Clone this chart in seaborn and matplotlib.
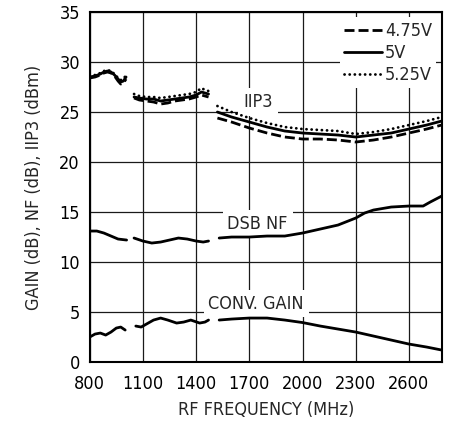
import matplotlib
matplotlib.use("Agg")
import matplotlib.pyplot as plt
import seaborn as sns
import pandas as pd
from matplotlib.lines import Line2D

# Frequency points (MHz) for the three measured bands
freq_a = [800, 830, 860, 880, 900, 920, 940, 960, 975, 990, 1005]
freq_b = [1050, 1080, 1120, 1160, 1200, 1240, 1280, 1320, 1360, 1400, 1430, 1450, 1470]
freq_c = [1520, 1600, 1700, 1800, 1900, 2000, 2100, 2200, 2300, 2400, 2500, 2600, 2700, 2785]

# IIP3 (dBm) at three supply voltages
iip3_475_a = [28.4, 28.5, 28.7, 28.9, 29.0, 28.9, 28.6, 28.1, 27.8, 27.9, 28.3]
iip3_500_a = [28.5, 28.6, 28.8, 29.0, 29.1, 29.0, 28.7, 28.3, 28.0, 28.1, 28.5]
iip3_525_a = [28.6, 28.7, 28.9, 29.1, 29.2, 29.1, 28.8, 28.4, 28.2, 28.3, 28.7]

iip3_475_b = [26.4, 26.2, 26.1, 26.0, 25.8, 25.9, 26.1, 26.2, 26.3, 26.5, 26.7, 26.6, 26.5]
iip3_500_b = [26.5, 26.4, 26.3, 26.3, 26.1, 26.2, 26.3, 26.4, 26.5, 26.7, 27.0, 26.9, 26.8]
iip3_525_b = [26.8, 26.6, 26.5, 26.5, 26.4, 26.5, 26.6, 26.7, 26.8, 27.0, 27.4, 27.2, 27.1]

iip3_475_c = [24.4, 24.0, 23.4, 22.9, 22.5, 22.3, 22.3, 22.2, 22.0, 22.2, 22.5, 22.9, 23.3, 23.7]
iip3_500_c = [25.0, 24.5, 24.0, 23.5, 23.1, 22.9, 22.8, 22.7, 22.5, 22.7, 22.9, 23.3, 23.7, 24.1]
iip3_525_c = [25.6, 25.0, 24.4, 23.9, 23.5, 23.3, 23.2, 23.1, 22.8, 23.0, 23.3, 23.7, 24.1, 24.5]

# DSB noise figure (dB)
nf_freq_a = [800, 840, 880, 920, 960, 1008]
nf_a = [13.1, 13.1, 12.9, 12.6, 12.3, 12.2]
nf_freq_b = [1050, 1100, 1150, 1200, 1250, 1300, 1350, 1400, 1440, 1470]
nf_b = [12.4, 12.1, 11.9, 12.0, 12.2, 12.4, 12.3, 12.1, 12.0, 12.1]
nf_freq_c = [1530, 1600, 1700, 1800, 1900, 2000, 2100, 2200, 2300, 2350,
             2400, 2500, 2600, 2680, 2720, 2785]
nf_c = [12.4, 12.5, 12.5, 12.6, 12.6, 12.9, 13.3, 13.7, 14.4, 14.9,
        15.2, 15.5, 15.6, 15.6, 16.0, 16.6]

# Conversion gain (dB)
gain_freq_a = [800, 830, 860, 890, 920, 950, 975, 1000]
gain_a = [2.5, 2.8, 2.9, 2.7, 3.0, 3.4, 3.5, 3.2]
gain_freq_b = [1060, 1090, 1120, 1160, 1200, 1240, 1290, 1330, 1370, 1420, 1450, 1470]
gain_b = [3.6, 3.5, 3.8, 4.2, 4.4, 4.2, 3.9, 4.0, 4.2, 3.9, 4.0, 4.2]
gain_freq_c = [1530, 1600, 1700, 1800, 1900, 2000, 2100, 2200, 2300, 2400,
               2500, 2600, 2700, 2785]
gain_c = [4.2, 4.3, 4.4, 4.4, 4.2, 3.95, 3.6, 3.3, 3.0, 2.6, 2.2, 1.8, 1.5, 1.2]

x_ticks = [800, 1100, 1400, 1700, 2000, 2300, 2600]
y_ticks = [0, 5, 10, 15, 20, 25, 30, 35]
supply_labels = ["4.75V", "5V", "5.25V"]

sns.set_style("white")
plt.rcParams["font.family"] = ["DejaVu Sans"]
plt.rcParams["font.stretch"] = "condensed"
plt.rcParams["font.size"] = 13

fig = plt.figure(figsize=(4.66, 4.21), dpi=100)
ax = fig.add_axes([0.1925, 0.140, 0.7555, 0.8315])

LW = 2.0
styles = {
    "4.75V": dict(linestyle=(0, (3.6, 1.45))),
    "5V": dict(linestyle="-"),
    "5.25V": dict(linestyle=(0, (0.05, 1.8)), dash_capstyle="round"),
}

def draw(x, y, **kw):
    df = pd.DataFrame({"f": x, "v": y})
    sns.lineplot(data=df, x="f", y="v", ax=ax, color="black", lw=LW,
                 estimator=None, sort=False, legend=False, **kw)

iip3 = {
    "4.75V": [(freq_a, iip3_475_a), (freq_b, iip3_475_b), (freq_c, iip3_475_c)],
    "5V": [(freq_a, iip3_500_a), (freq_b, iip3_500_b), (freq_c, iip3_500_c)],
    "5.25V": [(freq_a, iip3_525_a), (freq_b, iip3_525_b), (freq_c, iip3_525_c)],
}
for name in supply_labels:
    for fx, vy in iip3[name]:
        draw(fx, vy, **styles[name])

for fx, vy in [(nf_freq_a, nf_a), (nf_freq_b, nf_b), (nf_freq_c, nf_c)]:
    draw(fx, vy)
for fx, vy in [(gain_freq_a, gain_a), (gain_freq_b, gain_b), (gain_freq_c, gain_c)]:
    draw(fx, vy)

ax.set_xlim(800, 2785)
ax.set_ylim(0, 35)
ax.set_xticks(x_ticks)
ax.set_yticks(y_ticks)
ax.set_axisbelow(True)
ax.grid(True, color="#1a1a1a", lw=0.9)
for sp in ax.spines.values():
    sp.set_visible(True)
    sp.set_color("black")
    sp.set_linewidth(1.5)
ax.tick_params(axis="both", length=0, labelsize=13, colors="black")
ax.tick_params(axis="x", pad=9)
ax.tick_params(axis="y", pad=7)
ax.set_xlabel("RF FREQUENCY (MHz)", fontsize=13, labelpad=6)
ax.set_ylabel("GAIN (dB), NF (dB), IIP3 (dBm)", fontsize=13, labelpad=12)

box = dict(facecolor="white", edgecolor="none", pad=3.5)
for txt, xx, yy in [("IIP3", 1749, 26.0), ("DSB NF", 1747, 13.85), ("CONV. GAIN", 1739, 5.85)]:
    ax.text(xx, yy, txt, ha="center", va="center", fontsize=13, bbox=box, zorder=1.5)

handles = [Line2D([], [], color="black", lw=LW, **styles[n]) for n in supply_labels]
leg = ax.legend(handles, supply_labels, loc="upper right", frameon=True,
                facecolor="white", edgecolor="none", framealpha=1, fancybox=False,
                fontsize=13, handlelength=2.1, handletextpad=0.15, labelspacing=0.22,
                borderpad=0.25, borderaxespad=0.3)

fig.savefig("out.png", dpi=100)
